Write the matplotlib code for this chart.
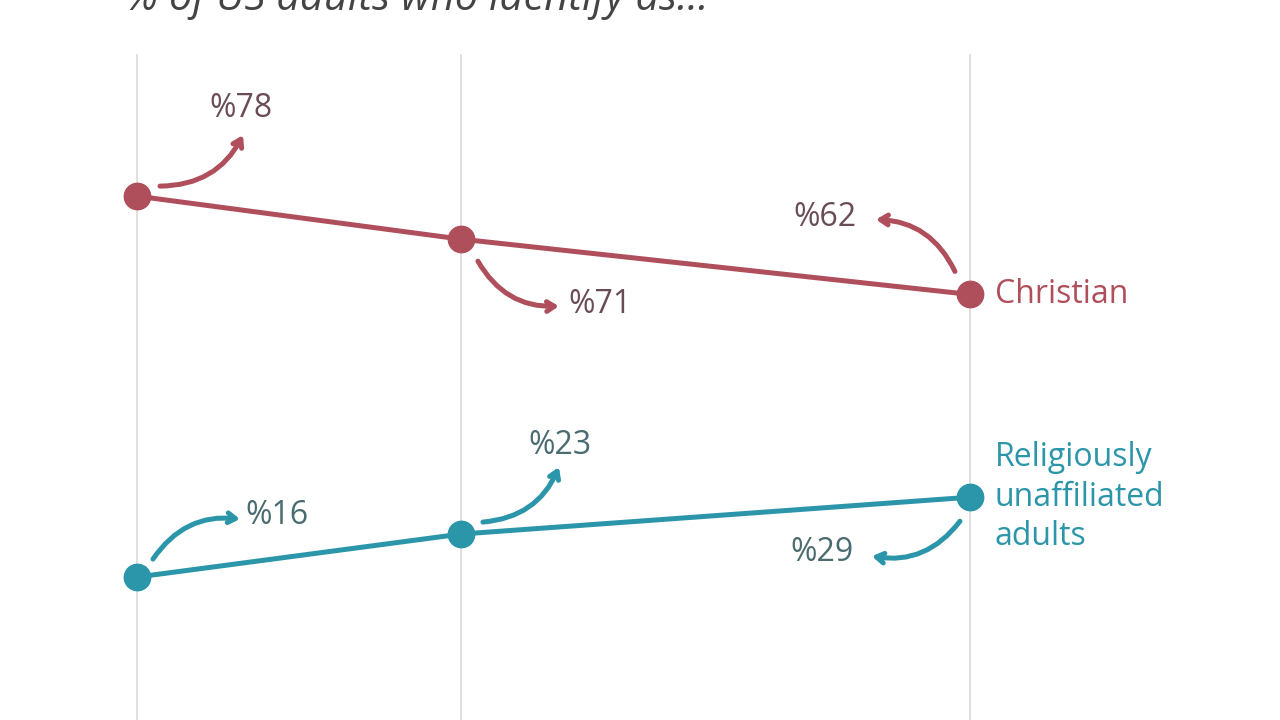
import matplotlib
matplotlib.use("Agg")
import matplotlib.pyplot as plt
from matplotlib.transforms import offset_copy

# data
years = [2007, 2014, 2025]
christian = [78, 71, 62]
unaffiliated = [16, 23, 29]
christian_labels = ["%78", "%71", "%62"]
unaffiliated_labels = ["%16", "%23", "%29"]

RED = "#b04f5c"
TEAL = "#2b95aa"
RED_TXT = "#6a4c55"
TEAL_TXT = "#4a6b70"

plt.rcParams["font.family"] = ["Open Sans", "DejaVu Sans"]

fig = plt.figure(figsize=(12.8, 7.2), dpi=100)
ax = fig.add_axes([0, 0, 1, 1])
ax.set_xlim(2004.04, 2031.70)
ax.set_ylim(-7.26, 109.92)
ax.axis("off")

for yr in years:
    ax.axvline(yr, ymin=0, ymax=0.924, color="#d9d9d9", lw=1.2, zorder=0)

ax.plot(years, christian, color=RED, lw=3.6, marker="o", ms=19, zorder=3)
ax.plot(years, unaffiliated, color=TEAL, lw=3.6, marker="o", ms=19, zorder=3)

# (tail offset, head offset, label offset, curvature) in pixels from the point
red_ann = [
    ((23, 10), (106, 61), (104, 88), 0.3),
    ((17, -22), (98, -67), (139, -65), 0.3),
    ((-15, 23), (-94, 75), (-145, 77), 0.3),
]
teal_ann = [
    ((16, 18), (103, 58), (140, 62), -0.3),
    ((22, 12), (98, 67), (99, 89), 0.3),
    ((-10, -24), (-98, -59), (-148, -55), -0.3),
]


def annotate_series(xs, ys, labels, specs, color, txt_color):
    for x, y, lab, (tail, head, lpos, rad) in zip(xs, ys, labels, specs):
        tr = offset_copy(ax.transData, fig=fig, x=head[0], y=head[1], units="dots")
        ax.annotate(
            "", xy=(x, y), xycoords=tr,
            xytext=(tail[0] - head[0], tail[1] - head[1]), textcoords="offset pixels",
            arrowprops=dict(arrowstyle="->,head_length=0.55,head_width=0.35",
                            connectionstyle=f"arc3,rad={rad}",
                            color=color, lw=3.6, shrinkA=0, shrinkB=0),
            zorder=2,
        )
        ax.annotate(lab, xy=(x, y), xytext=lpos, textcoords="offset pixels",
                    ha="center", va="center", fontsize=23, color=txt_color)


annotate_series(years, christian, christian_labels, red_ann, RED, RED_TXT)
annotate_series(years, unaffiliated, unaffiliated_labels, teal_ann, TEAL, TEAL_TXT)

ax.annotate("Christian", xy=(years[-1], christian[-1]), xytext=(25, 0),
            textcoords="offset pixels", ha="left", va="center",
            fontsize=23, color=RED)
ax.annotate("Religiously\nunaffiliated\nadults", xy=(years[-1], unaffiliated[-1]),
            xytext=(25, 0), textcoords="offset pixels", ha="left", va="center",
            fontsize=23, color=TEAL, linespacing=1.25)

fig.text(125 / 1280, 1 - 10 / 720, "% of US adults who identify as...",
         fontsize=30, style="italic", color="#444444", ha="left", va="baseline")

fig.savefig("out.png", dpi=100, facecolor="white")
